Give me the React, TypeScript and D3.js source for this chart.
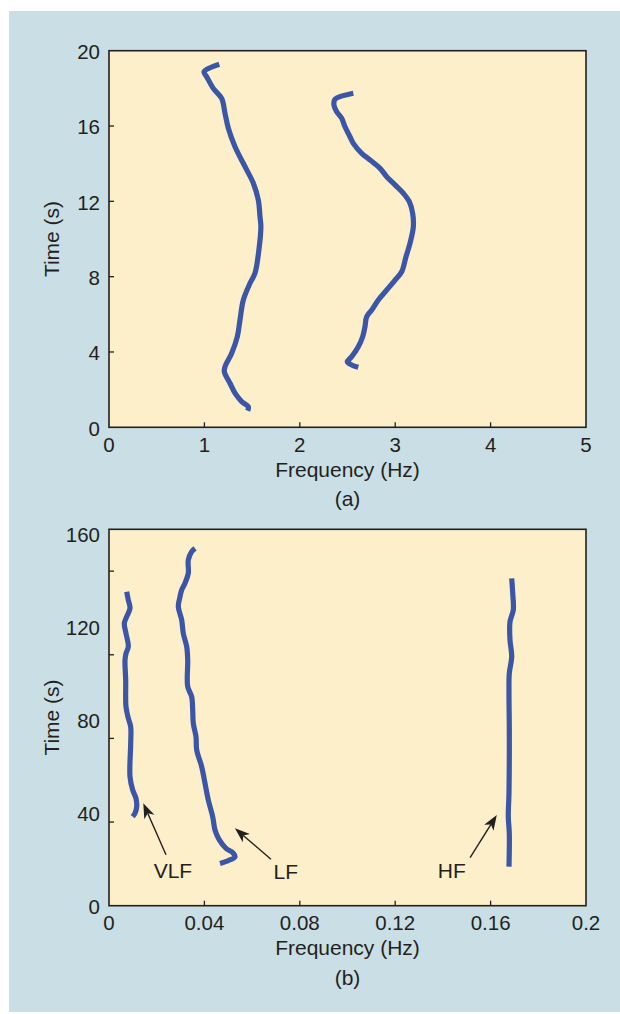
import React from "react";
import * as d3 from "d3";

// ---------- Data ----------
// Panel (a): time–frequency ridges, [frequency (Hz), time (s)]
const ridgeA1: [number, number][] = [
  [1.156, 19.28], [0.996, 18.88], [1.024, 18.62], [1.093, 18.0], [1.181, 17.47],
  [1.216, 16.68], [1.251, 15.88], [1.321, 14.9], [1.426, 13.84], [1.513, 12.96],
  [1.565, 12.07], [1.583, 11.18], [1.592, 10.65], [1.571, 9.41], [1.53, 8.18],
  [1.478, 7.65], [1.408, 6.76], [1.373, 5.7], [1.345, 4.81], [1.286, 3.93],
  [1.216, 3.22], [1.209, 2.95], [1.268, 2.34], [1.321, 1.81], [1.391, 1.36],
  [1.46, 1.09], [1.454, 0.88],
];
const ridgeA2: [number, number][] = [
  [2.561, 17.74], [2.369, 17.42], [2.358, 17.12], [2.387, 16.76], [2.439, 16.41],
  [2.474, 15.96], [2.526, 15.43], [2.561, 15.08], [2.649, 14.55], [2.736, 14.2],
  [2.841, 13.75], [2.911, 13.31], [2.998, 12.87], [3.085, 12.43], [3.148, 11.98],
  [3.183, 11.36], [3.19, 10.65], [3.155, 9.77], [3.113, 9.06], [3.068, 8.26],
  [2.998, 7.82], [2.911, 7.29], [2.823, 6.76], [2.754, 6.23], [2.701, 5.87],
  [2.683, 5.34], [2.659, 4.81], [2.613, 4.28], [2.544, 3.75], [2.498, 3.48],
  [2.544, 3.31], [2.613, 3.19],
];

// Panel (b): VLF, LF, HF ridges
const ridgeVLF: [number, number][] = [
  [0.00742, 135.1], [0.00809, 131.6], [0.00881, 128.0], [0.00742, 124.4], [0.00642, 121.5],
  [0.00713, 117.2], [0.00809, 111.5], [0.00713, 108.6], [0.00671, 105.7], [0.007, 97.1],
  [0.00713, 85.6], [0.00809, 80.7], [0.0091, 77.0], [0.0091, 69.9], [0.00881, 55.5],
  [0.00994, 49.8], [0.01132, 46.2], [0.01161, 42.6], [0.0109, 39.8], [0.00994, 38.3],
];
const ridgeLF: [number, number][] = [
  [0.03606, 153.8], [0.03467, 152.4], [0.03325, 148.8], [0.03325, 143.1], [0.03187, 138.8],
  [0.03048, 135.9], [0.02977, 133.0], [0.02906, 128.7], [0.03048, 123.0], [0.03115, 117.2],
  [0.03258, 111.5], [0.033, 105.7], [0.033, 94.3], [0.03467, 89.9], [0.03509, 84.2],
  [0.03535, 78.5], [0.03648, 72.7], [0.03677, 67.0], [0.03887, 59.8], [0.04025, 52.7],
  [0.04164, 45.5], [0.04348, 38.3], [0.04444, 32.6], [0.04625, 28.3], [0.04906, 24.7],
  [0.05212, 22.6], [0.05283, 21.1], [0.05002, 19.4], [0.04654, 18.2],
];
const ridgeHF: [number, number][] = [
  [0.16885, 140.9], [0.16927, 134.5], [0.16952, 127.3], [0.16813, 122.2], [0.16813, 114.4],
  [0.16885, 107.2], [0.16784, 100.0], [0.16771, 91.4], [0.16784, 77.0], [0.16784, 62.7],
  [0.16771, 48.4], [0.16742, 38.3], [0.16784, 31.2], [0.16771, 16.8],
];

// Axes
const xTicksA = [0, 1, 2, 3, 4, 5];
const yTicksA = [0, 4, 8, 12, 16, 20];
const xTicksB = [0, 0.04, 0.08, 0.12, 0.16, 0.2];
const yLabelsB = [0, 40, 80, 120, 160];
const yMinorTicksB = [36, 72, 108, 144];

// Annotations for panel (b): label, label position, arrow tail, arrow head (data units)
const annotLabels = ["VLF", "LF", "HF"];
const annotLabelPos: [number, number][] = [[0.0268, 11.9], [0.0741, 11.5], [0.1437, 11.8]];
const annotArrowFrom: [number, number][] = [[0.0239, 21.9], [0.0679, 20.0], [0.1514, 20.7]];
const annotArrowTo: [number, number][] = [[0.01438, 44.1], [0.0528, 33.3], [0.1626, 39.0]];

// ---------- Styles ----------
const W = 620;
const H = 1014;
const BG = "#c9dfe5";
const PLOT_BG = "#fcefc9";
const INK = "#231f20";
const LINE = "#3b55a7";
const FONT = "'Liberation Sans', Arial, Helvetica, sans-serif";
const TICK_FS = 20.5;
const TITLE_FS = 21;

type PanelProps = {
  top: number;
  bottom: number;
  left: number;
  right: number;
  xDomain: [number, number];
  yDomain: [number, number];
  xTicks: number[];
  xFmt: (v: number) => string;
  yLabels: number[];
  yTicks: number[];
  series: [number, number][][];
  caption: string;
  annotations?: boolean;
};

function Arrow({ x1, y1, x2, y2 }: { x1: number; y1: number; x2: number; y2: number }) {
  const ang = Math.atan2(y2 - y1, x2 - x1);
  const len = 15;
  const half = 5.5;
  const notch = 4;
  const cos = Math.cos(ang);
  const sin = Math.sin(ang);
  const bx = x2 - len * cos;
  const by = y2 - len * sin;
  const p1 = [bx - half * sin, by + half * cos];
  const p2 = [bx + half * sin, by - half * cos];
  const pn = [x2 - (len - notch) * cos, y2 - (len - notch) * sin];
  return (
    <g>
      <line x1={x1} y1={y1} x2={pn[0]} y2={pn[1]} stroke={INK} strokeWidth={1.4} />
      <path
        d={`M${x2},${y2}L${p1[0]},${p1[1]}L${pn[0]},${pn[1]}L${p2[0]},${p2[1]}Z`}
        fill={INK}
      />
    </g>
  );
}

function Panel(p: PanelProps) {
  const x = d3.scaleLinear().domain(p.xDomain).range([p.left, p.right]);
  const y = d3.scaleLinear().domain(p.yDomain).range([p.bottom, p.top]);
  const line = d3
    .line<[number, number]>()
    .x((d) => x(d[0]))
    .y((d) => y(d[1]))
    .curve(d3.curveCatmullRom.alpha(0.5));
  const tickLen = 5;
  const cx = (p.left + p.right) / 2;
  const cy = (p.top + p.bottom) / 2;
  return (
    <g>
      <rect x={p.left} y={p.top} width={p.right - p.left} height={p.bottom - p.top} fill={PLOT_BG} />
      {p.series.map((s, i) => (
        <path
          key={i}
          d={line(s) || ""}
          fill="none"
          stroke={LINE}
          strokeWidth={5.2}
          strokeLinejoin="round"
          strokeLinecap="butt"
        />
      ))}
      {/* x ticks */}
      {p.xTicks.map((t, i) => (
        <g key={"xt" + i}>
          {i > 0 && i < p.xTicks.length - 1 && (
            <line x1={x(t)} x2={x(t)} y1={p.bottom} y2={p.bottom - tickLen} stroke={INK} strokeWidth={1.3} />
          )}
          <text
            x={x(t)}
            y={p.bottom + 24.5}
            textAnchor="middle"
            fontFamily={FONT}
            fontSize={TICK_FS}
            fill={INK}
          >
            {p.xFmt(t)}
          </text>
        </g>
      ))}
      {/* y ticks */}
      {p.yTicks.map((t, i) => (
        <line key={"yt" + i} x1={p.left} x2={p.left + tickLen} y1={y(t)} y2={y(t)} stroke={INK} strokeWidth={1.3} />
      ))}
      {p.yLabels.map((t, i) => (
        <text
          key={"yl" + i}
          x={p.left - 9}
          y={y(t) + 8.3}
          textAnchor="end"
          fontFamily={FONT}
          fontSize={TICK_FS}
          fill={INK}
        >
          {t}
        </text>
      ))}
      {/* frame */}
      <rect
        x={p.left}
        y={p.top}
        width={p.right - p.left}
        height={p.bottom - p.top}
        fill="none"
        stroke={INK}
        strokeWidth={1.6}
      />
      {/* titles */}
      <text x={cx} y={p.bottom + 49.5} textAnchor="middle" fontFamily={FONT} fontSize={TITLE_FS} fill={INK}>
        Frequency (Hz)
      </text>
      <text
        transform={`translate(59,${cy}) rotate(-90)`}
        textAnchor="middle"
        fontFamily={FONT}
        fontSize={TITLE_FS}
        fill={INK}
      >
        Time (s)
      </text>
      <text x={cx} y={p.bottom + 79} textAnchor="middle" fontFamily={FONT} fontSize={TITLE_FS} fill={INK}>
        {p.caption}
      </text>
      {p.annotations &&
        annotLabels.map((lab, i) => (
          <g key={"an" + i}>
            <text
              x={x(annotLabelPos[i][0])}
              y={y(annotLabelPos[i][1])}
              textAnchor="middle"
              fontFamily={FONT}
              fontSize={TITLE_FS}
              fill={INK}
            >
              {lab}
            </text>
            <Arrow
              x1={x(annotArrowFrom[i][0])}
              y1={y(annotArrowFrom[i][1])}
              x2={x(annotArrowTo[i][0])}
              y2={y(annotArrowTo[i][1])}
            />
          </g>
        ))}
    </g>
  );
}

export default function App() {
  return (
    <svg
      width={W}
      height={H}
      viewBox={`0 0 ${W} ${H}`}
      style={{ position: "absolute", left: 0, top: 0, background: "#ffffff" }}
    >
      <rect x={0} y={0} width={W} height={H} fill="#ffffff" />
      <rect x={9} y={11} width={W - 9} height={1001} fill={BG} />
      <Panel
        top={50.7}
        bottom={427.3}
        left={109}
        right={586}
        xDomain={[0, 5]}
        yDomain={[0, 20]}
        xTicks={xTicksA}
        xFmt={(v) => String(v)}
        yLabels={yTicksA}
        yTicks={yTicksA.slice(1, -1)}
        series={[ridgeA1, ridgeA2]}
        caption="(a)"
      />
      <Panel
        top={529.3}
        bottom={905.7}
        left={109}
        right={586}
        xDomain={[0, 0.2]}
        yDomain={[0, 162]}
        xTicks={xTicksB}
        xFmt={(v) => String(v)}
        yLabels={yLabelsB}
        yTicks={yMinorTicksB}
        series={[ridgeVLF, ridgeLF, ridgeHF]}
        caption="(b)"
        annotations
      />
    </svg>
  );
}
